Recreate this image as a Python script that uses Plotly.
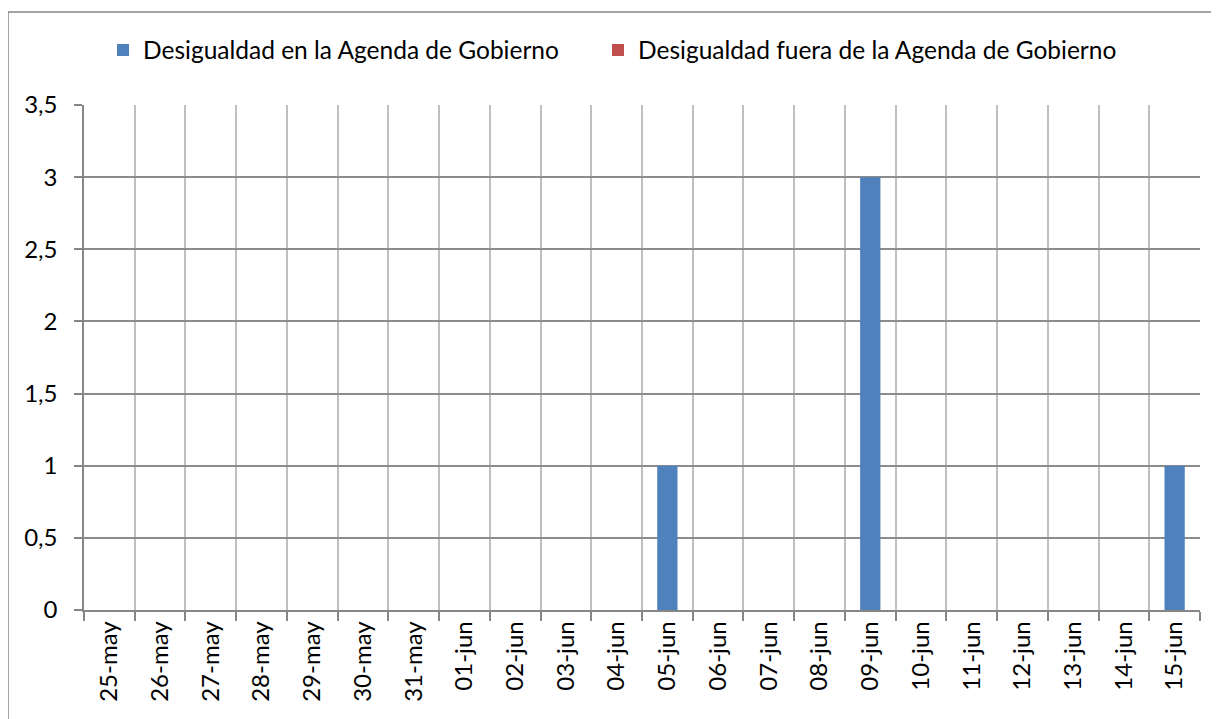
import plotly.graph_objects as go

categories = ["25-may", "26-may", "27-may", "28-may", "29-may", "30-may", "31-may",
              "01-jun", "02-jun", "03-jun", "04-jun", "05-jun", "06-jun", "07-jun",
              "08-jun", "09-jun", "10-jun", "11-jun", "12-jun", "13-jun", "14-jun", "15-jun"]
en_agenda = [0, 0, 0, 0, 0, 0, 0, 0, 0, 0, 0, 1, 0, 0, 0, 3, 0, 0, 0, 0, 0, 1]
fuera_agenda = [0] * len(categories)
y_ticks = [0, 0.5, 1, 1.5, 2, 2.5, 3, 3.5]

OFF = 8  # page body margin
W, H = 1219 - OFF, 719 - OFF
L, R, T, B = 84 - OFF, 19, 105 - OFF, 109
pw, ph = W - L - R, H - T - B

def px(x):
    return (x - OFF - L) / pw

def py(y):
    return (H - B - (y - OFF)) / ph

FONT = "Lato"
FS = 24
LFS = 24.5

fig = go.Figure()
fig.add_trace(go.Bar(x=categories, y=en_agenda, name="Desigualdad en la Agenda de Gobierno",
                     marker=dict(color="#4F81BD", line=dict(width=0)), width=0.4,
                     legend="legend"))
fig.add_trace(go.Bar(x=categories, y=fuera_agenda, name="Desigualdad fuera de la Agenda de Gobierno",
                     marker=dict(color="#C0504D", line=dict(width=0)), width=0.4,
                     legend="legend2"))

fig.update_layout(
    width=W, height=H,
    margin=dict(l=L, r=R, t=T, b=B),
    paper_bgcolor="white", plot_bgcolor="white",
    barmode="overlay",
    separators=",.",
    font=dict(family=FONT, size=FS, color="black"),
    showlegend=True,
    legend=dict(orientation="h", x=px(103), y=py(50), xanchor="left", yanchor="middle",
                font=dict(family=FONT, size=LFS, color="black"), bgcolor="rgba(0,0,0,0)",
                itemsizing="constant", itemwidth=30),
    legend2=dict(orientation="h", x=px(598), y=py(50), xanchor="left", yanchor="middle",
                 font=dict(family=FONT, size=LFS, color="black"), bgcolor="rgba(0,0,0,0)",
                 itemsizing="constant", itemwidth=30),
    xaxis=dict(type="category", categoryorder="array", categoryarray=categories,
               tickson="boundaries", ticks="outside", ticklen=9, tickcolor="#868686",
               tickwidth=1.5, showgrid=True, gridcolor="#BFBFBF", gridwidth=1.5,
               showline=True, linecolor="#868686", linewidth=1.5,
               tickangle=-90, tickfont=dict(family=FONT, size=FS, color="black"),
               range=[-0.5, len(categories) - 0.5], mirror=False, zeroline=False),
    yaxis=dict(range=[0, 3.5], tickvals=y_ticks, ticks="outside", ticklen=8,
               tickcolor="#868686", tickwidth=1.5, showgrid=True, gridcolor="#8C8C8C",
               gridwidth=1.5, showline=True, linecolor="#868686", linewidth=1.5,
               tickfont=dict(family=FONT, size=FS, color="black"), zeroline=False,
               ticklabelstandoff=12),
    shapes=[dict(type="rect", xref="paper", yref="paper",
                 x0=px(8), x1=px(1217.5), y0=py(740), y1=py(12),
                 line=dict(color="#868686", width=1.5), fillcolor="rgba(0,0,0,0)", layer="below")],
)

fig.write_html("out.html")
